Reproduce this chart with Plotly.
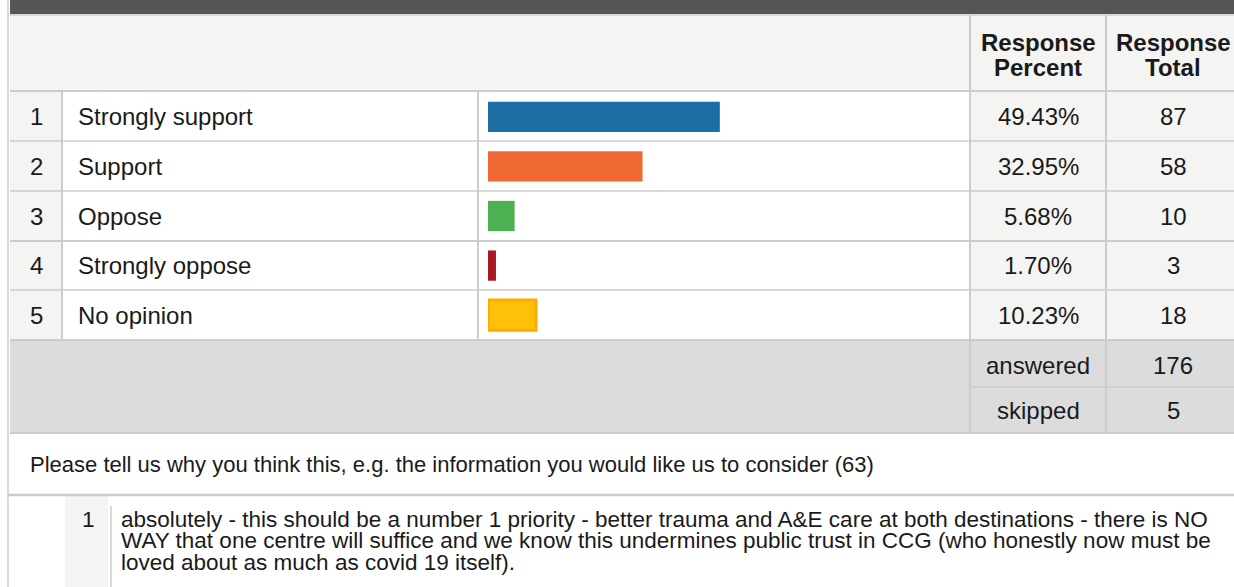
import plotly.graph_objs as go

W, H = 1234, 587

# survey data
categories = ["Strongly support", "Support", "Oppose", "Strongly oppose", "No opinion"]
percents = [49.43, 32.95, 5.68, 1.70, 10.23]
totals = [87, 58, 10, 3, 18]
row_numbers = [1, 2, 3, 4, 5]
bar_colors = ["#1c6ea4", "#f06935", "#4db152", "#a51c20", "#ffc107"]
bar_edges = ["#1c6ea4", "#f06935", "#4db152", "#a51c20", "#ffaa00"]
edge_widths = [0, 0, 0, 0, 3]
summary_labels = ["answered", "skipped"]
summary_values = [176, 5]
header_percent = ["Response", "Percent"]
header_total = ["Response", "Total"]
question = "Please tell us why you think this, e.g. the information you would like us to consider (63)"
comment_no = 1
comment_lines = [
    "absolutely - this should be a number 1 priority - better trauma and A&E care at both destinations - there is NO",
    "WAY that one centre will suffice and we know this undermines public trust in CCG (who honestly now must be",
    "loved about as much as covid 19 itself).",
]

FONT = "Liberation Sans, Arial, sans-serif"
INK = "#1a1a1a"
GRID = "#cccccc"


def px(x):
    return x / W


def py(y):
    return 1 - y / H


shapes = []
annotations = []


def rect(x0, y0, x1, y1, fill):
    shapes.append(dict(type="rect", xref="paper", yref="paper", layer="below",
                       x0=px(x0), x1=px(x1), y0=py(y1), y1=py(y0),
                       fillcolor=fill, line=dict(width=0)))


def line(x0, y0, x1, y1, width=1.5, color=GRID):
    shapes.append(dict(type="line", xref="paper", yref="paper", layer="below",
                       x0=px(x0), x1=px(x1), y0=py(y0), y1=py(y1),
                       line=dict(color=color, width=width)))


def text(x, y, s, size=24, anchor="center", bold=False, yref="paper"):
    if bold:
        s = "<b>" + s + "</b>"
    annotations.append(dict(x=px(x), y=y if yref == "y" else py(y), xref="paper", yref=yref,
                            text=s, showarrow=False, xanchor=anchor, yanchor="middle",
                            font=dict(family=FONT, size=size, color=INK)))


# table frame
rect(10, 0, W, 14, "#555555")
rect(10, 16, W, 91, "#f4f4f3")
rect(10, 92, 62, 340, "#f4f4f3")
rect(971, 92, W, 340, "#f4f4f3")
rect(10, 340, W, 433, "#dcdcdc")
rect(65, 496, 108, H, "#f4f4f3")

line(8, 0, 8, H)
line(10, 15, W, 15)
for yy in [91, 141, 191, 241, 290, 340, 433]:
    line(10, yy, W, yy, width=2 if yy in (91, 241, 340, 433) else 1.5)
line(971, 387, W, 387)
line(62, 91, 62, 340, width=2)
line(478, 91, 478, 340, width=2)
line(970, 15, 970, 433, width=2)
line(1106, 15, 1106, 433, width=2)
line(8, 495, W, 495, width=2.5)
line(111, 506, 111, H, width=1.5)

# header
text(1038, 42, header_percent[0], bold=True)
text(1038, 68, header_percent[1], bold=True)
text(1173, 42, header_total[0], bold=True)
text(1173, 68, header_total[1], bold=True)

# rows
for i, cat in enumerate(categories):
    text(36, cat, str(row_numbers[i]), yref="y")
    text(76, cat, cat, anchor="left", yref="y")
    text(1038, cat, "%.2f%%" % percents[i], yref="y")
    text(1173, cat, str(totals[i]), yref="y")

# answered / skipped
for i, lab in enumerate(summary_labels):
    text(1038, 365 + 45 * i, lab)
    text(1173, 365 + 45 * i, str(summary_values[i]))

# open question
text(28, 465, question, size=22, anchor="left")
text(88, 519, str(comment_no), size=22.5)
for i, ln in enumerate(comment_lines):
    text(119, 519 + 21.7 * i, ln, size=22.5, anchor="left")

fig = go.Figure(go.Bar(x=percents, y=categories, orientation="h",
                       marker=dict(color=bar_colors, line=dict(color=bar_edges, width=edge_widths)),
                       hoverinfo="x+y"))

fig.update_layout(
    width=W, height=H,
    margin=dict(l=0, r=0, t=0, b=0),
    paper_bgcolor="white", plot_bgcolor="rgba(0,0,0,0)",
    showlegend=False, bargap=0.39,
    shapes=shapes, annotations=annotations,
    xaxis=dict(domain=[px(488), px(957)], range=[0, 100], visible=False, fixedrange=True),
    yaxis=dict(domain=[py(340), py(92)], categoryorder="array", categoryarray=categories,
               autorange="reversed", visible=False, fixedrange=True),
)

fig.write_html("out.html", post_script="document.body.style.margin='0px';",
               config={"displayModeBar": False})
